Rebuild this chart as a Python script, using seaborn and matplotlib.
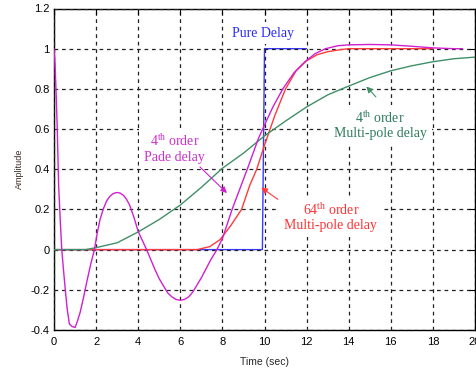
import matplotlib
matplotlib.use("Agg")
import matplotlib.pyplot as plt
import seaborn as sns
import pandas as pd

# ---- data ----
pure_t = [0.0, 9.9, 10.0, 12.0]
pure_v = [0.0, 0.0, 1.0, 1.0]

pade_t = [0.0, 0.05, 0.1, 0.15, 0.22, 0.3, 0.37, 0.45, 0.52, 0.62, 0.73, 0.85, 1.0,
          1.1, 1.24, 1.4, 1.55, 1.75, 1.92, 2.05, 2.19, 2.35, 2.5, 2.65, 2.8, 2.92,
          3.02, 3.15, 3.3, 3.45, 3.6, 3.8, 4.0, 4.2, 4.4, 4.6, 4.8, 5.0, 5.2, 5.4,
          5.6, 5.8, 6.0, 6.2, 6.4, 6.6, 6.8, 7.0, 7.2, 7.45, 7.74, 8.0, 8.46, 9.18,
          9.7, 9.91, 10.4, 10.87, 11.4, 11.92, 12.4, 12.9, 13.5, 14.0, 15.0, 16.0,
          17.0, 18.0, 19.0, 19.4]
pade_v = [1.0, 0.92, 0.78, 0.62, 0.32, 0.14, 0.0, -0.1, -0.18, -0.29, -0.37,
          -0.382, -0.388, -0.36, -0.313, -0.24, -0.164, -0.07, 0.0, 0.08, 0.151,
          0.205, 0.242, 0.265, 0.278, 0.283, 0.284, 0.281, 0.27, 0.25, 0.22, 0.16,
          0.09, 0.045, 0.0, -0.05, -0.10, -0.145, -0.18, -0.215, -0.235, -0.248,
          -0.252, -0.248, -0.235, -0.21, -0.175, -0.14, -0.10, -0.05, 0.0, 0.055,
          0.2, 0.4, 0.55, 0.6, 0.71, 0.8, 0.88, 0.935, 0.975, 1.0, 1.015, 1.019,
          1.021, 1.019, 1.012, 1.004, 1.0, 1.0]

mp64_t = [0.0, 6.8, 7.0, 7.4, 7.89, 8.4, 8.91, 9.3, 9.63, 10.0, 10.5, 11.0, 11.5,
          12.0, 12.5, 13.0, 13.6, 14.0, 18.0]
mp64_v = [0.0, 0.0, 0.005, 0.015, 0.05, 0.12, 0.2, 0.32, 0.4, 0.52, 0.67, 0.8,
          0.89, 0.94, 0.97, 0.985, 0.995, 1.0, 1.0]

mp4_t = [0.0, 1.5, 2.0, 3.0, 4.0, 5.0, 6.0, 7.0, 8.0, 9.0, 10.0, 11.0, 12.0, 13.0,
         14.0, 15.0, 16.0, 17.0, 18.0, 19.0, 20.0]
mp4_v = [0.0, 0.0, 0.01, 0.034, 0.088, 0.15, 0.222, 0.31, 0.405, 0.48, 0.566,
         0.64, 0.71, 0.77, 0.814, 0.856, 0.89, 0.915, 0.935, 0.95, 0.958]

x_ticks = [0, 2, 4, 6, 8, 10, 12, 14, 16, 18, 20]
y_ticks = [-0.4, -0.2, 0, 0.2, 0.4, 0.6, 0.8, 1, 1.2]
y_tick_labels = ["-0.4", "-0.2", "0", "0.2", "0.4", "0.6", "0.8", "1", "1.2"]

# ---- styling ----
sns.set_style("white")
plt.rcParams["font.family"] = ["Liberation Sans", "DejaVu Sans"]
plt.rcParams["mathtext.fontset"] = "custom"
plt.rcParams["mathtext.rm"] = "Liberation Serif"
plt.rcParams["mathtext.it"] = "Liberation Serif:italic"

c_pure = "#3a3aff"
c_pade = "#d020d0"
c_mp64 = "#ff3a3a"
c_mp4 = "#3f9068"

fig = plt.figure(figsize=(4.76, 3.72), dpi=100)
ax = fig.add_axes([54 / 476, 1 - 330 / 372, 421 / 476, 321.5 / 372])

def draw(t, v, color, z):
    df = pd.DataFrame({"t": t, "v": v})
    sns.lineplot(data=df, x="t", y="v", ax=ax, color=color, lw=1.0,
                 estimator=None, sort=False, zorder=z)

draw(pure_t, pure_v, c_pure, 2)
draw(mp64_t, mp64_v, c_mp64, 3)
draw(mp4_t, mp4_v, c_mp4, 4)
draw(pade_t, pade_v, c_pade, 5)

ax.set_xlim(0, 20)
ax.set_ylim(-0.4, 1.2)
ax.set_xticks(x_ticks)
ax.set_yticks(y_ticks)
ax.set_yticklabels(y_tick_labels)
ax.tick_params(direction="in", length=4, width=0.8, labelsize=8, pad=3,
               top=True, right=True, colors="black")
ax.tick_params(axis="x", pad=5)
for s in ax.spines.values():
    s.set_color("black")
    s.set_linewidth(1.0)

ax.grid(True, color="#222222", linestyle=(0, (3, 3)), linewidth=0.9)
ax.set_axisbelow(False)

ax.set_xlabel("Time (sec)", fontsize=7.5, labelpad=7)
ax.set_ylabel("Amplitude", fontsize=6.5, color="#3a2a22", labelpad=5)

serif = ["Liberation Serif", "DejaVu Serif"]
box = dict(boxstyle="square,pad=0.35", facecolor="white", edgecolor="none")

ax.text(9.93, 1.078, "Pure Delay", color="#2a2aff", fontsize=10, family=serif,
        ha="center", va="center", bbox=box, zorder=3)
ax.text(5.72, 0.503, "4$^{\\mathrm{th}}$ order\nPade delay", color="#cc30cc",
        fontsize=10, family=serif, ha="center", va="center", multialignment="center",
        linespacing=1.15, bbox=box, zorder=3)
ax.text(15.5, 0.62, "4$^{\\mathrm{th}}$ order\nMulti-pole delay", color="#2e7d5b",
        fontsize=10, family=serif, ha="center", va="center", multialignment="center",
        linespacing=1.15, bbox=box, zorder=3)
ax.text(13.15, 0.163, "64$^{\\mathrm{th}}$ order\nMulti-pole delay", color="#ff3333",
        fontsize=10, family=serif, ha="center", va="center", multialignment="center",
        linespacing=1.15, bbox=box, zorder=3)

ax.annotate("", xy=(8.31, 0.272), xytext=(6.84, 0.421),
            arrowprops=dict(arrowstyle="-|>", color=c_pade, lw=0.8, mutation_scale=9),
            zorder=6)
ax.annotate("", xy=(9.74, 0.317), xytext=(10.74, 0.242),
            arrowprops=dict(arrowstyle="-|>", color=c_mp64, lw=0.8, mutation_scale=9),
            zorder=6)
ax.annotate("", xy=(14.75, 0.822), xytext=(15.38, 0.75),
            arrowprops=dict(arrowstyle="-|>", color=c_mp4, lw=0.8, mutation_scale=9),
            zorder=6)

fig.savefig("out.png", dpi=100)
